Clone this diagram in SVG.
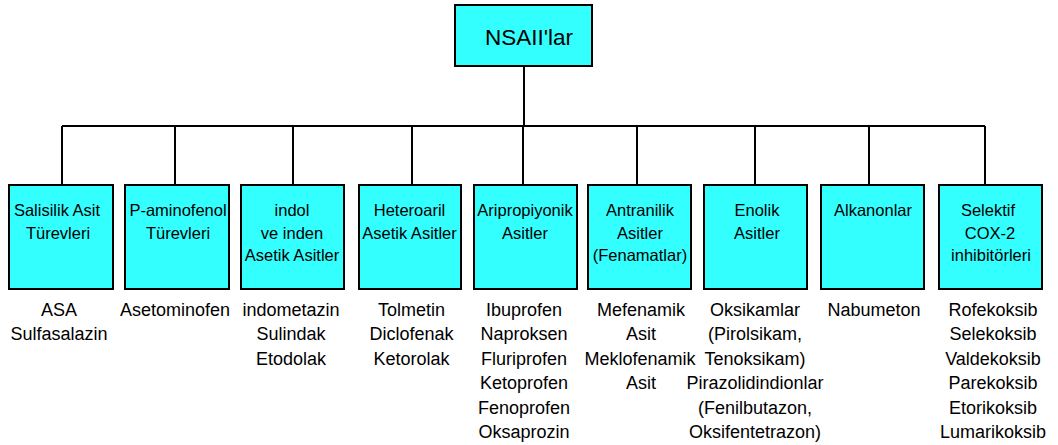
<svg xmlns="http://www.w3.org/2000/svg" width="1058" height="445" viewBox="0 0 1058 445">
<style>
.box{fill:#33ffff;stroke:#000;stroke-width:2}
.ln{stroke:#000;stroke-width:2;fill:none}
.bt{font-family:"Liberation Sans",Arial,sans-serif;font-size:16.5px;fill:#000;text-anchor:middle}
.lt{font-family:"Liberation Sans",Arial,sans-serif;font-size:18px;fill:#000;text-anchor:middle}
.tt{font-family:"Liberation Sans",Arial,sans-serif;font-size:22.5px;fill:#000;text-anchor:middle}
</style>
<rect width="1058" height="445" fill="#fff"/>
<g id="connectors">
<path class="ln" d="M524 66V126M62 126H985M62 126V185M175 126V185M293 126V185M412 126V185M523 126V185M637 126V185M755 126V185M869 126V185M985 126V185"/>
</g>
<g id="root"><rect class="box" x="455" y="5" width="137" height="61"/><text class="tt" x="529" y="45">NSAII'lar</text></g>
<g id="n1"><rect class="box" x="9" y="185" width="104" height="104"/><text class="bt" x="57" y="216">Salisilik Asit</text><text class="bt" x="58" y="238.5">Türevleri</text></g>
<g id="n2"><rect class="box" x="125" y="185" width="104" height="104"/><text class="bt" x="178" y="216">P-aminofenol</text><text class="bt" x="178" y="238.5">Türevleri</text></g>
<g id="n3"><rect class="box" x="241" y="185" width="103" height="104"/><text class="bt" x="292" y="216">indol</text><text class="bt" x="292" y="238.5">ve inden</text><text class="bt" x="292" y="261">Asetik Asitler</text></g>
<g id="n4"><rect class="box" x="359" y="185" width="102" height="104"/><text class="bt" x="409.5" y="216">Heteroaril</text><text class="bt" x="409.5" y="238.5">Asetik Asitler</text></g>
<g id="n5"><rect class="box" x="474" y="185" width="103" height="104"/><text class="bt" x="525" y="216">Aripropiyonik</text><text class="bt" x="525" y="238.5">Asitler</text></g>
<g id="n6"><rect class="box" x="588" y="185" width="103" height="104"/><text class="bt" x="640" y="216">Antranilik</text><text class="bt" x="640" y="238.5">Asitler</text><text class="bt" x="640" y="261">(Fenamatlar)</text></g>
<g id="n7"><rect class="box" x="704" y="185" width="103" height="104"/><text class="bt" x="757" y="216">Enolik</text><text class="bt" x="757" y="238.5">Asitler</text></g>
<g id="n8"><rect class="box" x="821" y="185" width="103" height="104"/><text class="bt" x="873" y="216">Alkanonlar</text></g>
<g id="n9"><rect class="box" x="939" y="185" width="103" height="104"/><text class="bt" x="988" y="216">Selektif</text><text class="bt" x="990" y="238.5">COX-2</text><text class="bt" x="991" y="261">inhibitörleri</text></g>
<g id="l1"><text class="lt" x="59" y="315.5">ASA</text><text class="lt" x="59" y="340">Sulfasalazin</text></g>
<g id="l2"><text class="lt" x="175" y="315.5">Asetominofen</text></g>
<g id="l3"><text class="lt" x="291" y="315.5">indometazin</text><text class="lt" x="291" y="340">Sulindak</text><text class="lt" x="291" y="364.5">Etodolak</text></g>
<g id="l4"><text class="lt" x="411.5" y="315.5">Tolmetin</text><text class="lt" x="411.5" y="340">Diclofenak</text><text class="lt" x="411.5" y="364.5">Ketorolak</text></g>
<g id="l5"><text class="lt" x="524" y="315.5">Ibuprofen</text><text class="lt" x="524" y="340">Naproksen</text><text class="lt" x="524" y="364.5">Fluriprofen</text><text class="lt" x="524" y="389">Ketoprofen</text><text class="lt" x="524" y="413.5">Fenoprofen</text><text class="lt" x="524" y="438">Oksaprozin</text></g>
<g id="l6"><text class="lt" x="641" y="315.5">Mefenamik</text><text class="lt" x="641" y="340">Asit</text><text class="lt" x="640" y="364.5">Meklofenamik</text><text class="lt" x="641" y="389">Asit</text></g>
<g id="l7"><text class="lt" x="755" y="315.5">Oksikamlar</text><text class="lt" x="755" y="340">(Pirolsikam,</text><text class="lt" x="755" y="364.5">Tenoksikam)</text><text class="lt" x="755" y="389">Pirazolidindionlar</text><text class="lt" x="755" y="413.5">(Fenilbutazon,</text><text class="lt" x="755" y="438">Oksifentetrazon)</text></g>
<g id="l8"><text class="lt" x="874" y="315.5">Nabumeton</text></g>
<g id="l9"><text class="lt" x="993" y="315.5">Rofekoksib</text><text class="lt" x="993" y="340">Selekoksib</text><text class="lt" x="993" y="364.5">Valdekoksib</text><text class="lt" x="993" y="389">Parekoksib</text><text class="lt" x="993" y="413.5">Etorikoksib</text><text class="lt" x="993" y="438">Lumarikoksib</text></g>
</svg>
